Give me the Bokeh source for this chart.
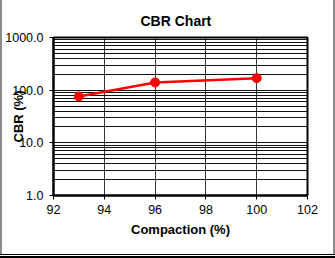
from bokeh.plotting import figure
from bokeh.models import FixedTicker, PrintfTickFormatter, Range1d
from bokeh.embed import file_html
from bokeh.resources import INLINE

compaction = [93, 96, 100]
cbr = [76, 140, 169]
x_ticks = [92, 94, 96, 98, 100, 102]
y_ticks = [1, 10, 100, 1000]
y_minor = [m * d for d in (1, 10, 100) for m in range(2, 10)]

FONT = "Liberation Sans"

p = figure(width=335, height=258, y_axis_type="log",
           x_range=Range1d(92, 102), y_range=Range1d(1, 1000),
           output_backend="svg", toolbar_location=None,
           min_border_left=53, min_border_right=28,
           min_border_top=37, min_border_bottom=63,
           title="CBR Chart",
           styles={"box-shadow": ("inset 0 -2px 0 0 #000000, inset 0 -3px 0 0 #ffffff, "
                                  "inset 0 -4px 0 0 #000000, inset 2px 0 0 0 #8c8c8c, "
                                  "inset -2px 0 0 0 #8c8c8c"),
                   "background-color": "#ffffff"})

p.title.align = "left"
p.title.offset = 87
p.title.standoff = 18
p.title.text_font = FONT
p.title.text_font_size = "14px"
p.title.text_font_style = "bold"
p.title.text_color = "black"

p.background_fill_color = "white"
p.border_fill_color = "white"
p.border_fill_alpha = 0
p.outline_line_color = "black"
p.outline_line_width = 2

# axes
p.xaxis.ticker = FixedTicker(ticks=x_ticks)
p.yaxis.ticker = FixedTicker(ticks=y_ticks, minor_ticks=y_minor)
p.yaxis.formatter = PrintfTickFormatter(format="%.1f")
for ax in (p.xaxis[0], p.yaxis[0]):
    ax.axis_line_color = "black"
    ax.axis_line_width = 2
    ax.major_tick_line_color = "black"
    ax.major_tick_out = 4
    ax.major_tick_in = 0
    ax.minor_tick_line_color = None
    ax.major_label_text_font = FONT
    ax.major_label_text_font_size = "12.5px"
    ax.major_label_text_color = "black"
    ax.major_label_standoff = 5
    ax.axis_label_text_font = FONT
    ax.axis_label_text_font_size = "13px"
    ax.axis_label_text_font_style = "bold"
    ax.axis_label_text_color = "black"

p.yaxis.major_label_standoff = 6
p.xaxis.axis_label = "Compaction (%)"
p.xaxis.axis_label_standoff = 5
p.yaxis.axis_label = "CBR (%)"
p.yaxis.axis_label_standoff = -24

# grids
p.xgrid.grid_line_color = "#333333"
p.xgrid.grid_line_width = 1
p.ygrid.grid_line_color = "#111111"
p.ygrid.grid_line_width = 1
p.ygrid.minor_grid_line_color = "#111111"
p.ygrid.minor_grid_line_width = 1

p.line(compaction, cbr, line_color="#FF0000", line_width=2.5)
p.scatter(compaction, cbr, size=9, fill_color="#FF0000", line_color="#FF0000")

open("out.html", "w").write(file_html(p, INLINE))
